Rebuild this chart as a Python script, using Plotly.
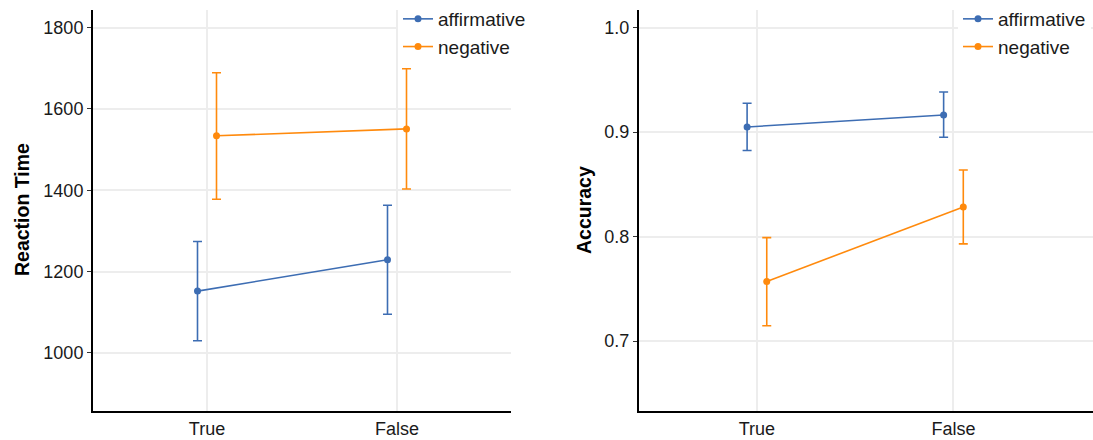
import plotly.graph_objects as go

categories = ["True", "False"]
groups = ["affirmative", "negative"]

rt_affirmative = [1152, 1229]
rt_affirmative_lo = [1030, 1095]
rt_affirmative_hi = [1274, 1363]
rt_negative = [1534, 1551]
rt_negative_lo = [1378, 1403]
rt_negative_hi = [1689, 1699]

acc_affirmative = [0.905, 0.9165]
acc_affirmative_lo = [0.8824, 0.8952]
acc_affirmative_hi = [0.9277, 0.9385]
acc_negative = [0.757, 0.8284]
acc_negative_lo = [0.7146, 0.793]
acc_negative_hi = [0.799, 0.8638]

rt_ticks = [1000, 1200, 1400, 1600, 1800]
acc_ticks = [0.7, 0.8, 0.9, 1.0]

colors = {"affirmative": "#3D6DB3", "negative": "#FF8A0D"}
dodge = {"affirmative": -0.05, "negative": 0.05}
FONT = "Liberation Sans, Arial, Helvetica, sans-serif"
W, H = 1093, 440

fig = go.Figure()

def add_series(name, mean, lo, hi, xa, ya, legend, show):
    xs = [i + 1 + dodge[name] for i in range(len(categories))]
    fig.add_trace(go.Scatter(
        x=xs, y=mean, name=name, mode="lines+markers",
        line=dict(color=colors[name], width=1.6),
        marker=dict(color=colors[name], size=7),
        error_y=dict(type="data", symmetric=False,
                     array=[h - m for h, m in zip(hi, mean)],
                     arrayminus=[m - l for m, l in zip(mean, lo)],
                     color=colors[name], thickness=1.6, width=4.5),
        xaxis=xa, yaxis=ya, legend=legend, showlegend=show,
    ))

add_series("affirmative", rt_affirmative, rt_affirmative_lo, rt_affirmative_hi, "x", "y", "legend", True)
add_series("negative", rt_negative, rt_negative_lo, rt_negative_hi, "x", "y", "legend", True)
add_series("affirmative", acc_affirmative, acc_affirmative_lo, acc_affirmative_hi, "x2", "y2", "legend2", True)
add_series("negative", acc_negative, acc_negative_lo, acc_negative_hi, "x2", "y2", "legend2", True)

def px(v):
    return v / W

def py(v):
    return 1 - v / H

grid = "#EDEDED"
common_x = dict(tickmode="array", tickvals=[1, 2], ticktext=categories,
                showline=True, linecolor="black", linewidth=2,
                showgrid=True, gridcolor=grid, gridwidth=1.6,
                zeroline=False, ticks="", fixedrange=True,
                tickfont=dict(family=FONT, size=18, color="#1a1a1a"))
common_y = dict(showline=True, linecolor="black", linewidth=2,
                showgrid=True, gridcolor=grid, gridwidth=1.6,
                zeroline=False, ticks="outside", ticklen=4, tickcolor="#333",
                tickwidth=1, fixedrange=True,
                tickfont=dict(family=FONT, size=18, color="#1a1a1a"))

legend_common = dict(bgcolor="white", borderwidth=0,
                     font=dict(family=FONT, size=19, color="#1a1a1a"),
                     xanchor="left", yanchor="top", tracegroupgap=0,
                     itemwidth=30)

fig.update_layout(
    width=W, height=H,
    margin=dict(l=0, r=0, t=0, b=0, autoexpand=False),
    paper_bgcolor="white", plot_bgcolor="white",
    xaxis=dict(domain=[px(93), px(511)], range=[0.4, 2.6], anchor="y", **common_x),
    yaxis=dict(domain=[py(411), py(10)], range=[857, 1843.5], anchor="x",
               tickvals=rt_ticks, **common_y),
    xaxis2=dict(domain=[px(639), 1.0], range=[0.4, 2.71], anchor="y2", **common_x),
    yaxis2=dict(domain=[py(411), py(10)], range=[0.633, 1.017], anchor="x2",
                tickvals=acc_ticks, tickformat=".1f", **common_y),
    legend=dict(x=px(398), y=1.0, **legend_common),
    legend2=dict(x=px(958), y=1.0, **legend_common),
    annotations=[
        dict(text="<b>Reaction Time</b>", textangle=-90, x=px(22), y=py(210),
             xref="paper", yref="paper", xanchor="center", yanchor="middle",
             showarrow=False, font=dict(family=FONT, size=19.5, color="black")),
        dict(text="<b>Accuracy</b>", textangle=-90, x=px(584), y=py(210),
             xref="paper", yref="paper", xanchor="center", yanchor="middle",
             showarrow=False, font=dict(family=FONT, size=19.5, color="black")),
    ],
)

fig.write_html("out.html", config={"displayModeBar": False},
               post_script="document.body.style.margin='0';")
